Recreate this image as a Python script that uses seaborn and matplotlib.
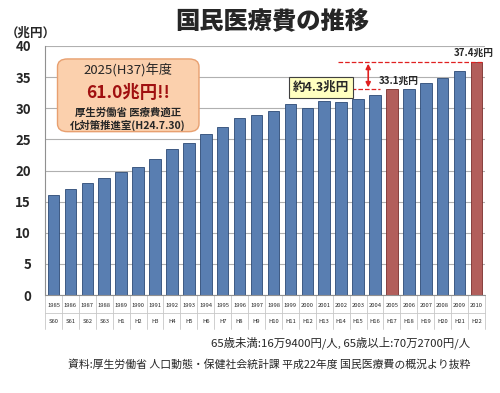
import matplotlib
matplotlib.use("Agg")
import matplotlib.pyplot as plt
import seaborn as sns
from matplotlib.patches import FancyBboxPatch

years = ["1985", "1986", "1987", "1988", "1989", "1990", "1991", "1992", "1993",
         "1994", "1995", "1996", "1997", "1998", "1999", "2000", "2001", "2002",
         "2003", "2004", "2005", "2006", "2007", "2008", "2009", "2010"]
eras = ["S60", "S61", "S62", "S63", "H1", "H2", "H3", "H4", "H5", "H6", "H7",
        "H8", "H9", "H10", "H11", "H12", "H13", "H14", "H15", "H16", "H17",
        "H18", "H19", "H20", "H21", "H22"]
cost = [16.0, 17.0, 18.0, 18.8, 19.7, 20.6, 21.8, 23.5, 24.4, 25.8, 27.0, 28.5,
        28.9, 29.6, 30.7, 30.1, 31.1, 31.0, 31.5, 32.1, 33.1, 33.1, 34.1, 34.8,
        36.0, 37.4]
highlight = ["2005", "2010"]

sns.set_style("white")
plt.rcParams["font.family"] = ["Noto Sans CJK JP", "DejaVu Sans"]

blue = "#4a7cc0"
red = "#c0504d"
colors = {y: (red if y in highlight else blue) for y in years}

fig = plt.figure(figsize=(5, 3.93), dpi=100)
ax = fig.add_axes([0.09, 0.249, 0.88, 0.634])

sns.barplot(x=years, y=cost, hue=years, palette=colors, legend=False,
            width=0.68, ax=ax, edgecolor="#2c4a75", linewidth=0.6)
for p, y in zip(ax.patches, years):
    if y in highlight:
        p.set_edgecolor("#7a2e2c")

ax.yaxis.grid(True, color="#b0b0b0", linewidth=0.8)
ax.set_axisbelow(True)
for s in ["top", "right", "bottom"]:
    ax.spines[s].set_visible(False)
ax.spines["left"].set_color("#909090")
ax.tick_params(axis="y", length=4, color="#909090", labelsize=9.5, pad=6)
ax.set_xticks([])
ax.set_xlabel("")

# table under the bars
n = len(years)
for i, (y, e) in enumerate(zip(years, eras)):
    ax.text(i, -1.7, y, ha="center", va="center", fontsize=4.2, clip_on=False)
    ax.text(i, -4.2, e, ha="center", va="center", fontsize=4.2, clip_on=False)
for k in range(n + 1):
    ax.plot([k - 0.5, k - 0.5], [0, -5.4], color="#c8c8c8", lw=0.6, clip_on=False)
ax.plot([-0.5, n - 0.5], [0, 0], color="#909090", lw=0.8, clip_on=False)
ax.plot([-0.5, n - 0.5], [-2.9, -2.9], color="#c8c8c8", lw=0.6, clip_on=False)

# annotations
ax.plot([16.8, 25.3], [37.4, 37.4], ls="--", color="#e02020", lw=0.9)
ax.plot([16.8, 19.3], [33.1, 33.1], ls="--", color="#e02020", lw=0.9)
ax.annotate("", xy=(18.6, 37.6), xytext=(18.6, 32.9),
            arrowprops=dict(arrowstyle="<|-|>", color="#e02020", lw=1.2,
                            mutation_scale=7))
ax.text(19.2, 34.0, "33.1兆円", fontsize=7, fontweight="bold")
ax.text(26.0, 38.4, "37.4兆円", fontsize=7, fontweight="bold", ha="right")
ax.text(15.8, 32.8, "約4.3兆円", fontsize=9, fontweight="bold", ha="center",
        bbox=dict(boxstyle="square,pad=0.3", fc="#ffffc0", ec="#404040", lw=0.8))

ax.set_xlim(-0.5, n - 0.5)
ax.set_ylim(0, 40)
ax.set_yticks(range(0, 41, 5))
for lab in ax.get_yticklabels():
    lab.set_fontweight("bold")

box = FancyBboxPatch((0.115, 0.665), 0.283, 0.185, transform=fig.transFigure,
                     boxstyle="round,pad=0,rounding_size=0.02",
                     fc="#fbd0ad", ec="#e8a070", lw=1)
fig.patches.append(box)
fig.text(0.256, 0.82, "2025(H37)年度", ha="center", va="center", fontsize=9.5)
fig.text(0.256, 0.763, "61.0兆円!!", ha="center", va="center", fontsize=12.5,
         fontweight="bold", color="#a01010")
fig.text(0.256, 0.712, "厚生労働省 医療費適正", ha="center", va="center",
         fontsize=7.5, fontweight="bold")
fig.text(0.256, 0.68, "化対策推進室(H24.7.30)", ha="center", va="center",
         fontsize=7.5, fontweight="bold")

fig.text(0.545, 0.943, "国民医療費の推移", ha="center", va="center", fontsize=17.5,
         fontweight="black")
fig.text(0.012, 0.915, "（兆円）", ha="left", va="center", fontsize=9,
         fontweight="bold")
fig.text(0.94, 0.128, "65歳未満:16万9400円/人, 65歳以上:70万2700円/人",
         ha="right", va="center", fontsize=8.2)
fig.text(0.94, 0.072, "資料:厚生労働省 人口動態・保健社会統計課 平成22年度 国民医療費の概況より抜粋",
         ha="right", va="center", fontsize=7.8)

fig.savefig("out.png", dpi=100)
